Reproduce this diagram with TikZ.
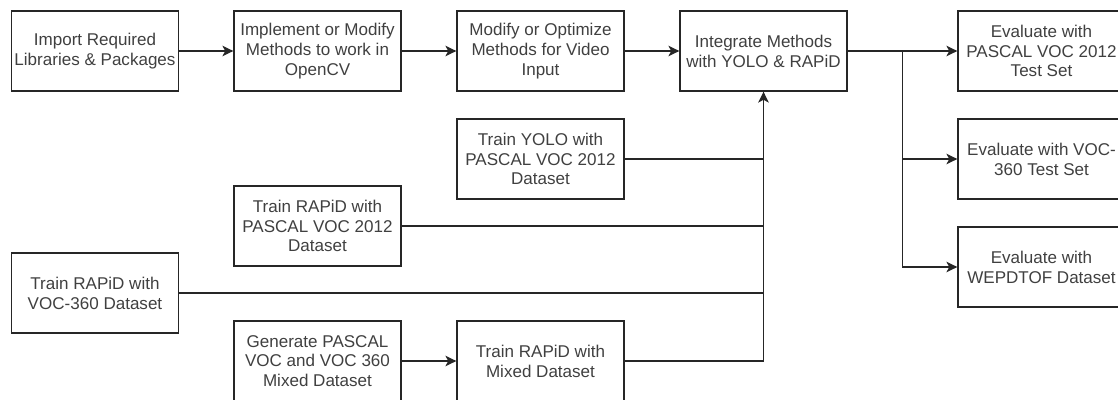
\documentclass[tikz,border=0pt]{standalone}
\usepackage{fontspec}
\setmainfont{Liberation Sans}
\usepackage{xcolor}
\usepackage{tikz}
\usetikzlibrary{arrows.meta,calc}

\tikzset{
    stepbox/.style={draw=black!85, line width=0.8pt, fill=white, text=black!75,
        minimum width=3.34cm, minimum height=1.6cm, align=center,
        inner sep=1pt, font=\fontsize{9.7}{11.3}\selectfont},
    link/.style={draw=black!85, line width=0.8pt}
}

\begin{document}
\begin{tikzpicture}[x=0.02cm, y=-0.02cm, >={Stealth[length=6.2pt, width=6pt, inset=1.6pt]}]
    \useasboundingbox (0,0) rectangle (1118,399);

    % Main pipeline
    \node[stepbox] (import) at (95,51) {Import Required\\Libraries \& Packages};
    \node[stepbox] (implement) at (317.5,51) {Implement or Modify\\Methods to work in\\OpenCV};
    \node[stepbox] (video) at (540.5,51) {Modify or Optimize\\Methods for Video\\Input};
    \node[stepbox] (integrate) at (763.5,51) {Integrate Methods\\with YOLO \& RAPiD};

    % Evaluation
    \node[stepbox] (evalvoc) at (1041.5,51) {Evaluate with\\PASCAL VOC 2012\\Test Set};
    \node[stepbox] (evalthree) at (1041.5,159) {Evaluate with VOC-\\360 Test Set};
    \node[stepbox] (evalwep) at (1041.5,267) {Evaluate with\\WEPDTOF Dataset};

    % Training
    \node[stepbox] (yolovoc) at (540.5,159) {Train YOLO with\\PASCAL VOC 2012\\Dataset};
    \node[stepbox] (rapidvoc) at (317.5,226) {Train RAPiD with\\PASCAL VOC 2012\\Dataset};
    \node[stepbox] (rapidthree) at (95,293) {Train RAPiD with\\VOC-360 Dataset};
    \node[stepbox] (mixgen) at (317.5,361) {Generate PASCAL\\VOC and VOC 360\\Mixed Dataset};
    \node[stepbox] (rapidmix) at (540.5,361) {Train RAPiD with\\Mixed Dataset};

    % Pipeline arrows
    \draw[link, ->] (import) -- (implement);
    \draw[link, ->] (implement) -- (video);
    \draw[link, ->] (video) -- (integrate);
    \draw[link, ->] (mixgen) -- (rapidmix);

    % Training into integration
    \draw[link] (yolovoc.east) -- (yolovoc.east -| integrate.south);
    \draw[link] (rapidvoc.east) -- (rapidvoc.east -| integrate.south);
    \draw[link] (rapidthree.east) -- (rapidthree.east -| integrate.south);
    \draw[link, ->] (rapidmix.east) -| (integrate.south);

    % Split to evaluation
    \coordinate (split) at ($(integrate.east)!0.5!(evalvoc.west)$);
    \draw[link, ->] (integrate) -- (evalvoc);
    \draw[link, ->] (split) |- (evalthree.west);
    \draw[link, ->] (split) |- (evalwep.west);
\end{tikzpicture}
\end{document}
